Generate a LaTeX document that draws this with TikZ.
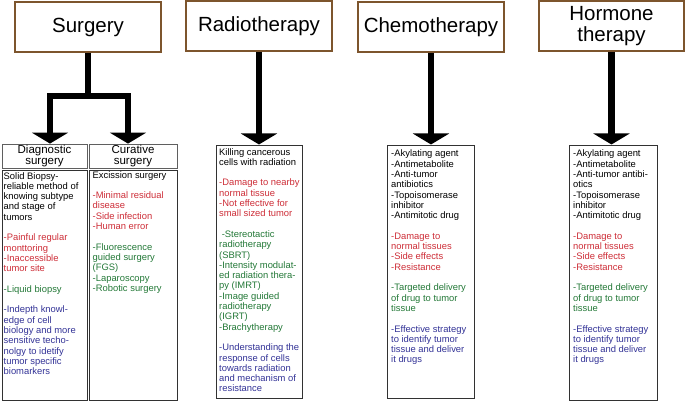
\documentclass[tikz,border=0pt]{standalone}
\usepackage{fontspec}
\setmainfont{Liberation Sans}
\usetikzlibrary{arrows.meta,calc}
\definecolor{cbrown}{RGB}{125,85,45}
\definecolor{cred}{RGB}{205,45,55}
\definecolor{cgreen}{RGB}{35,120,55}
\definecolor{cblue}{RGB}{50,50,150}
\definecolor{cbox}{RGB}{50,50,50}
\definecolor{chead}{RGB}{95,95,95}
\newcommand{\bodyfont}{\fontsize{9.4}{10.3}\selectfont}
\newcommand{\lgap}{\\[10.3pt]}
\newcommand{\btext}[2]{\parbox[t]{#1}{\bodyfont\raggedright #2}}
\begin{document}
\begin{tikzpicture}[x=1pt,y=-1pt,
  topbox/.style={draw=cbrown,line width=2pt,fill=white,minimum width=146pt,minimum height=50pt,inner sep=0pt,align=center,font=\fontsize{20.5}{21}\selectfont},
  headbox/.style={draw=chead,line width=0.8pt,minimum height=24pt,inner sep=0pt,align=center,font=\fontsize{11.5}{11.2}\selectfont},
  bodybox/.style={draw=cbox,line width=1pt,inner sep=0pt},
  bodytext/.style={anchor=base west,inner sep=0pt},
  fatline/.style={line width=6.5pt,line join=miter},
  tip/.tip={Triangle[width=36pt,length=11pt]}
]
\useasboundingbox (0,0) rectangle (685,401);

% top boxes
\node[topbox] (surg) at (88,27) {Surgery};
\node[topbox] (radio) at (259,26) {Radiotherapy};
\node[topbox] (chemo) at (431,27) {Chemotherapy};
\node[topbox,minimum width=145pt] (horm) at (611.5,26) {Hormone\\therapy};

% surgery sub boxes
\node[headbox,minimum width=85pt] (diaghead) at (44.5,156) {Diagnostic\\surgery};
\node[headbox,minimum width=88pt] (curhead) at (133,156) {Curative\\surgery};
\node[bodybox,minimum width=85pt,minimum height=230pt] (diagbody) at (44.5,285) {};
\node[bodybox,minimum width=88pt,minimum height=230pt] (curbody) at (133,285) {};

% other bodies
\node[bodybox,minimum width=86pt,minimum height=253pt] (radbody) at (259,271.5) {};
\node[bodybox,minimum width=87pt,minimum height=253pt] (chembody) at (430.5,271.5) {};
\node[bodybox,minimum width=88pt,minimum height=255pt] (hormbody) at (613,272.5) {};

% texts
\node[bodytext] (diagtxt) at (3.5,179) {\btext{84pt}{Solid Biopsy-\\reliable method of\\knowing subtype\\and stage of\\tumors\lgap
{\color{cred}-Painful regular\\monttoring\\-Inaccessible\\tumor site}\lgap
{\color{cgreen}-Liquid biopsy}\lgap
{\color{cblue}-Indepth knowl-\\edge of cell\\biology and more\\sensitive techo-\\nolgy to idetify\\tumor specific\\biomarkers}}};

\node[bodytext] (curtxt) at (92.5,178) {\btext{86pt}{Excission surgery\lgap
{\color{cred}-Minimal residual\\disease\\-Side infection\\-Human error}\lgap
{\color{cgreen}-Fluorescence\\guided surgery\\(FGS)\\-Laparoscopy\\-Robotic surgery}}};

\node[bodytext] (radtxt) at (219,155) {\btext{86pt}{Killing cancerous\\cells with radiation\lgap
{\color{cred}-Damage to nearby\\normal tissue\\-Not effective for\\small sized tumor}\lgap
{\color{cgreen}\hspace*{2.6pt}-Stereotactic\\radiotherapy\\(SBRT)\\-Intensity modulat-\\ed radiation thera-\\py (IMRT)\\-Image guided\\radiotherapy\\(IGRT)\\-Brachytherapy}\lgap
{\color{cblue}-Understanding the\\response of cells\\towards radiation\\and mechanism of\\resistance}}};

\node[bodytext] (chemtxt) at (391,157) {\btext{86pt}{-Akylating agent\\-Antimetabolite\\-Anti-tumor\\antibiotics\\-Topoisomerase\\inhibitor\\-Antimitotic drug\lgap
{\color{cred}-Damage to\\normal tissues\\-Side effects\\-Resistance}\lgap
{\color{cgreen}-Targeted delivery\\of drug to tumor\\tissue}\lgap
{\color{cblue}-Effective strategy\\to identify tumor\\tissue and deliver\\it drugs}}};

\node[bodytext] (hormtxt) at (573,157) {\btext{86pt}{-Akylating agent\\-Antimetabolite\\-Anti-tumor antibi-\\otics\\-Topoisomerase\\inhibitor\\-Antimitotic drug\lgap
{\color{cred}-Damage to\\normal tissues\\-Side effects\\-Resistance}\lgap
{\color{cgreen}-Targeted delivery\\of drug to tumor\\tissue}\lgap
{\color{cblue}-Effective strategy\\to identify tumor\\tissue and deliver\\it drugs}}};

% arrows
\coordinate (br) at ($(surg.south)+(0,43)$);
\coordinate (dtip) at ($(diaghead.north)+(5.5,0)$);
\coordinate (ctip) at ($(curhead.north)+(-5,0)$);
\draw[fatline] (surg.south) -- (br);
\draw[fatline,{tip}-{tip}] (dtip) |- (br) -| (ctip);
\draw[fatline,-{tip}] (radio.south) -- (radio.south |- radbody.north);
\draw[fatline,-{tip}] (chemo.south) -- (chemo.south |- chembody.north);
\draw[fatline,-{tip}] (horm.south) -- (horm.south |- hormbody.north);
\end{tikzpicture}
\end{document}
